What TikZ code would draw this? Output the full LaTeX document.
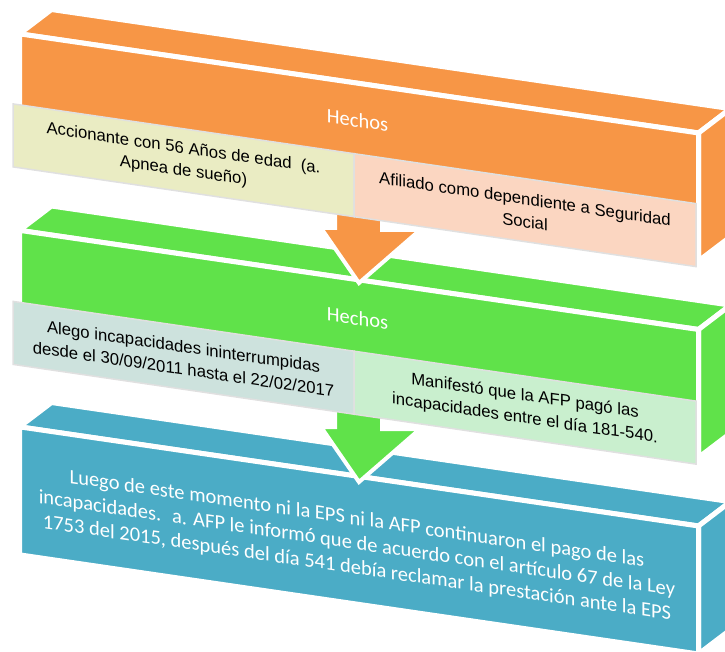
\documentclass[tikz,border=0pt]{standalone}
\usepackage{fontspec}
\usepackage{tikz}
\newfontfamily\arialfont{Liberation Sans}
\newfontfamily\calibrifont{Carlito}
\definecolor{orng}{HTML}{F79646}
\definecolor{grn}{HTML}{60E24A}
\definecolor{blu}{HTML}{4BACC6}
\definecolor{orngA}{HTML}{EAECC3}
\definecolor{orngB}{HTML}{FBD6C1}
\definecolor{grnA}{HTML}{CDE2DD}
\definecolor{grnB}{HTML}{C9EFCE}
\tikzset{
  face/.style={ draw=white, line width=5pt }
}
\tikzset{
  subbox/.style={ draw=black!12, line width=1.5pt, transform shape, minimum height=63pt, inner sep=0pt, align=center, font=\arialfont\fontsize{16.7}{22.5}\selectfont }
}
\tikzset{
  title/.style={ transform shape, text=white, align=center, font=\calibrifont\fontsize{20.5}{24.5}\selectfont }
}
\tikzset{
  procarrow/.style={ draw=white, line width=4pt }
}

\begin{document}
\begin{tikzpicture}[x=1pt, y=-1pt]
        \useasboundingbox (0,0) rectangle (725,652);
        \begin{scope}[yslant=-0.146]
          \foreach \t/\c in {31/orng, 227.5/grn, 424/blu}{
            \filldraw[face, fill=\c] (19.5,\t) -- (51.5,\t-29) -- (730.5,\t-29) -- (698.5,\t) -- cycle;
            \filldraw[face, fill=\c] (698.5,\t) -- (730.5,\t-29) -- (730.5,\t+99) -- (698.5,\t+128) -- cycle;
            \filldraw[face, fill=\c] (19.5,\t) rectangle (698.5,\t+128);
          }
        \end{scope}
        \foreach \c/\y [count=\i] in {orng/283, grn/482}{
          \coordinate (tip\i) at (359,\y);
          \filldraw[procarrow, fill=\c] (tip\i) -- (321,\y-55) -- (335,\y-55) -- (335,\y-90) -- (382,\y-90) -- (382,\y-53) -- (420,\y-53) -- cycle;
        }
        \begin{scope}[yslant=-0.146]
          \node[title] (h1) at (357.5,68) {Hechos};
          \node[subbox, fill=orngA, minimum width=341pt] (s11) at (183.5,133.5) {Accionante con 56 Años de edad~ (a.\\Apnea de sueño)};
          \node[subbox, fill=orngB, minimum width=342pt] (s12) at (525,133.5) {Afiliado como dependiente a Seguridad\\Social};
          \node[title] (h2) at (357.5,266) {Hechos};
          \node[subbox, fill=grnA, minimum width=341pt] (s21) at (183.5,331) {Alego incapacidades ininterrumpidas\\desde el 30/09/2011 hasta el 22/02/2017};
          \node[subbox, fill=grnB, minimum width=342pt] (s22) at (525,331) {Manifestó que la AFP pagó las\\incapacidades entre el día 181-540.};
          \node[title] (t3) at (357,492) {Luego de este momento ni la EPS ni la AFP continuaron el pago de las\\incapacidades.~ a. AFP le informó que de acuerdo con el artículo 67 de la Ley\\1753 del 2015, después del día 541 debía reclamar la prestación ante la EPS};
        \end{scope}
      \end{tikzpicture}
\end{document}
